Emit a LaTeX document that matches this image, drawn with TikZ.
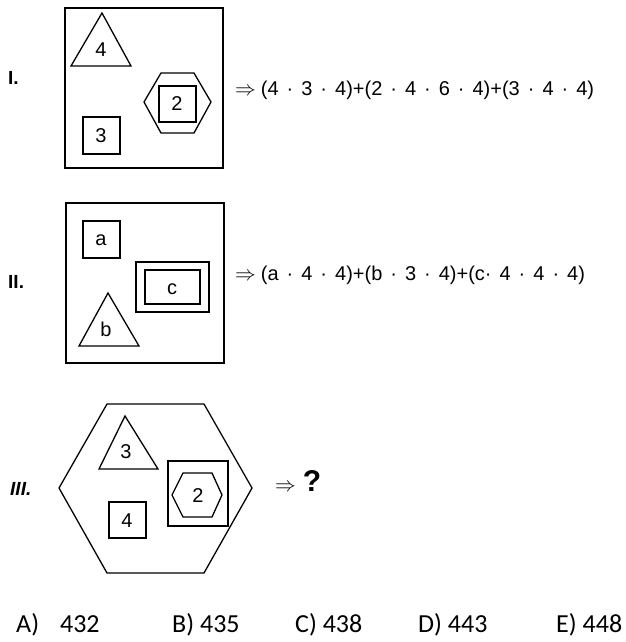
\documentclass[tikz,border=0pt]{standalone}
\usepackage{fontspec}
\setmainfont{Liberation Sans}
\newfontfamily\answerfont{Carlito}
\usetikzlibrary{positioning}

\newcommand\dt{\hspace{8pt}·\hspace{8pt}}

\tikzset{
  fig/.style={line width=1.3pt, line join=miter},
  lbl/.style={font=\fontsize{20}{20}\selectfont, inner sep=0pt},
  rule/.style={font=\fontsize{20}{20}\selectfont, anchor=west, inner sep=0pt},
  numeral/.style={font=\fontsize{19}{19}\selectfont\bfseries, anchor=west, inner sep=0pt},
  answer/.style={font=\answerfont\fontsize{26}{26}\selectfont, anchor=west, inner sep=0pt}
}

\begin{document}
\begin{tikzpicture}[x=1pt, y=-1pt]
    \useasboundingbox (0,0) rectangle (625,642);
    % I.
    \node[numeral] (numI) at (8,78) {I.};
    \draw[fig] (65,8) rectangle (223,168);
    \draw[fig] (102,13) -- (131,66) -- (71,66) -- cycle;
    \node[lbl] (tI) at (101,50) {4};
    \draw[fig] (144,102) -- (161,73) -- (194,73) -- (211,102) -- (194,133) -- (161,133) -- cycle;
    \draw[fig] (159,86) rectangle (196,122);
    \node[lbl] (hI) at (177,104) {2};
    \draw[fig] (83,117) rectangle (120,154);
    \node[lbl] (sI) at (101,136) {3};
    \node[rule] (ruleI) at (235,90) {$\Rightarrow$\hspace{5pt}(4\dt3\dt4)+(2\dt4\dt6\dt4)+(3\dt4\dt4)};

    % II.
    \node[numeral] (numII) at (8,282) {II.};
    \draw[fig] (66,203) rectangle (224,363);
    \draw[fig] (83,221) rectangle (120,258);
    \node[lbl] (sII) at (101,240) {a};
    \draw[fig] (136,262) rectangle (209,312);
    \draw[fig] (145,270) rectangle (200,304);
    \node[lbl] (rII) at (172,289) {c};
    \draw[fig] (108,293) -- (139,346) -- (79,346) -- cycle;
    \node[lbl] (tII) at (106,329) {b};
    \node[rule] (ruleII) at (235,275) {$\Rightarrow$\hspace{5pt}(a\dt4\dt4)+(b\dt3\dt4)+(c·\hspace{8pt}4\dt4\dt4)};

    % III.
    \node[numeral] (numIII) at (10,489) {\itshape III.};
    \draw[fig] (59,488) -- (107,404) -- (204,404) -- (252,488) -- (204,573) -- (107,573) -- cycle;
    \draw[fig] (125,416) -- (158,469) -- (99,469) -- cycle;
    \node[lbl] (tIII) at (126,452) {3};
    \draw[fig] (109,502) rectangle (146,538);
    \node[lbl] (sIII) at (127,521) {4};
    \draw[fig] (168,461) rectangle (228,526);
    \draw[fig] (172,495) -- (183,473) -- (212,473) -- (222,495) -- (212,517) -- (183,517) -- cycle;
    \node[lbl] (hIII) at (198,496) {2};
    \node[rule] (ruleIII) at (275,481) {$\Rightarrow$\hspace{7pt}\textbf{\fontsize{30}{30}\selectfont ?}};

    % answers
    \node[answer] (ansA) at (16,625) {A)\hspace{21pt}432};
    \node[answer] (ansB) at (172,625) {B) 435};
    \node[answer] (ansC) at (295,625) {C) 438};
    \node[answer] (ansD) at (418,625) {D) 443};
    \node[answer] (ansE) at (556,625) {E) 448};
\end{tikzpicture}
\end{document}
